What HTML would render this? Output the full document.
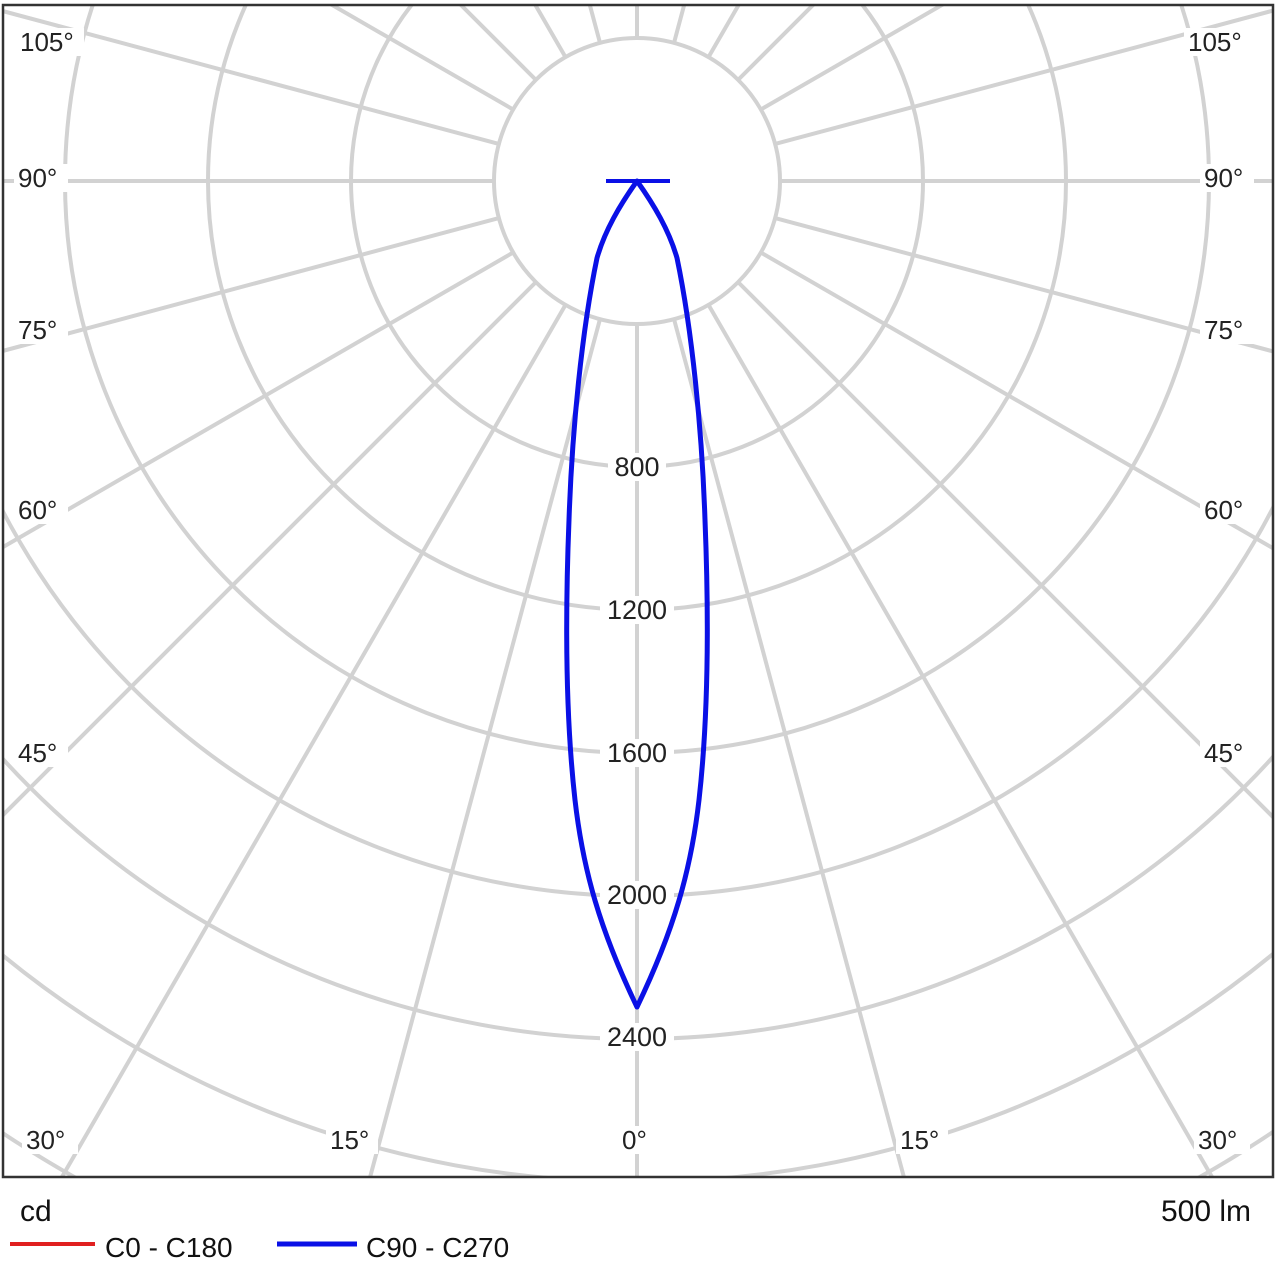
<!DOCTYPE html>
<html><head><meta charset="utf-8"><style>
html,body{margin:0;padding:0;background:#fff;width:1280px;height:1280px;overflow:hidden;}
svg{display:block;font-family:"Liberation Sans",Arial,sans-serif;}
</style></head><body>
<svg width="1280" height="1280" viewBox="0 0 1280 1280" xmlns="http://www.w3.org/2000/svg">
<defs><clipPath id="c"><rect x="3" y="5" width="1270" height="1172"/></clipPath></defs>
<rect width="1280" height="1280" fill="#fff"/>
<g clip-path="url(#c)" stroke="#d2d2d2" stroke-width="4" fill="none">
<g transform="translate(637,181)">
<circle r="143"/><circle r="286"/><circle r="429"/><circle r="572"/><circle r="715"/><circle r="858"/><circle r="1001"/><circle r="1144"/><circle r="1287"/><circle r="1430"/>
<line x1="0" y1="143" x2="0" y2="1900"/>
<line x1="0" y1="143" x2="0" y2="1900" transform="rotate(15)"/>
<line x1="0" y1="143" x2="0" y2="1900" transform="rotate(30)"/>
<line x1="0" y1="143" x2="0" y2="1900" transform="rotate(45)"/>
<line x1="0" y1="143" x2="0" y2="1900" transform="rotate(60)"/>
<line x1="0" y1="143" x2="0" y2="1900" transform="rotate(75)"/>
<line x1="0" y1="143" x2="0" y2="1900" transform="rotate(90)"/>
<line x1="0" y1="143" x2="0" y2="1900" transform="rotate(105)"/>
<line x1="0" y1="143" x2="0" y2="1900" transform="rotate(120)"/>
<line x1="0" y1="143" x2="0" y2="1900" transform="rotate(135)"/>
<line x1="0" y1="143" x2="0" y2="1900" transform="rotate(150)"/>
<line x1="0" y1="143" x2="0" y2="1900" transform="rotate(165)"/>
<line x1="0" y1="143" x2="0" y2="1900" transform="rotate(180)"/>
<line x1="0" y1="143" x2="0" y2="1900" transform="rotate(-15)"/>
<line x1="0" y1="143" x2="0" y2="1900" transform="rotate(-30)"/>
<line x1="0" y1="143" x2="0" y2="1900" transform="rotate(-45)"/>
<line x1="0" y1="143" x2="0" y2="1900" transform="rotate(-60)"/>
<line x1="0" y1="143" x2="0" y2="1900" transform="rotate(-75)"/>
<line x1="0" y1="143" x2="0" y2="1900" transform="rotate(-90)"/>
<line x1="0" y1="143" x2="0" y2="1900" transform="rotate(-105)"/>
<line x1="0" y1="143" x2="0" y2="1900" transform="rotate(-120)"/>
<line x1="0" y1="143" x2="0" y2="1900" transform="rotate(-135)"/>
<line x1="0" y1="143" x2="0" y2="1900" transform="rotate(-150)"/>
<line x1="0" y1="143" x2="0" y2="1900" transform="rotate(-165)"/>
</g>
</g>
<g fill="#fff">
<rect x="14" y="28" width="70" height="28"/><rect x="1184" y="28" width="70" height="28"/>
<rect x="14" y="164" width="54" height="28"/><rect x="1200" y="164" width="54" height="28"/>
<rect x="14" y="316" width="54" height="28"/><rect x="1200" y="316" width="54" height="28"/>
<rect x="14" y="496" width="54" height="28"/><rect x="1200" y="496" width="54" height="28"/>
<rect x="14" y="739" width="54" height="28"/><rect x="1200" y="739" width="54" height="28"/>
<rect x="22" y="1126" width="56" height="28"/><rect x="1194" y="1126" width="56" height="28"/>
<rect x="326" y="1126" width="52" height="28"/><rect x="896" y="1126" width="52" height="28"/>
<rect x="618" y="1126" width="38" height="28"/>
<rect x="608" y="453" width="58" height="28"/>
<rect x="600" y="596" width="74" height="28"/>
<rect x="600" y="739" width="74" height="28"/>
<rect x="600" y="881" width="74" height="28"/>
<rect x="600" y="1023" width="74" height="28"/>
</g>
<g font-size="26" fill="#222">
<text x="20" y="51">105°</text><text x="1188" y="51">105°</text>
<text x="18" y="187">90°</text><text x="1204" y="187">90°</text>
<text x="18" y="339">75°</text><text x="1204" y="339">75°</text>
<text x="18" y="519">60°</text><text x="1204" y="519">60°</text>
<text x="18" y="762">45°</text><text x="1204" y="762">45°</text>
<text x="26" y="1149">30°</text><text x="1198" y="1149">30°</text>
<text x="330" y="1149">15°</text><text x="900" y="1149">15°</text>
<text x="622" y="1149">0°</text>
<g text-anchor="middle" font-size="27"><text x="637" y="476">800</text><text x="637" y="619">1200</text><text x="637" y="762">1600</text><text x="637" y="904">2000</text><text x="637" y="1046">2400</text></g>
</g>
<path d="M637,181 C620,205 605,230 597,258 C582,330 572,430 569,520 C565,620 566,720 575,800 C583,870 600,930 637,1007 C674,930 691,870 699,800 C708,720 709,620 705,520 C702,430 692,330 677,258 C669,230 654,205 637,181 Z" fill="none" stroke="#0a10e6" stroke-width="5" stroke-linejoin="round"/>
<line x1="606" y1="181" x2="670" y2="181" stroke="#0a10e6" stroke-width="4"/>
<rect x="3" y="5" width="1270" height="1172" fill="none" stroke="#333" stroke-width="2.5"/>
<g font-size="30" fill="#111">
<text x="20" y="1221">cd</text>
<text x="1251" y="1221" text-anchor="end">500 lm</text>
</g>
<line x1="10" y1="1244" x2="95" y2="1244" stroke="#e02020" stroke-width="4"/>
<line x1="277" y1="1244" x2="357" y2="1244" stroke="#0a10e6" stroke-width="5"/>
<g font-size="28" fill="#111"><text x="105" y="1257">C0 - C180</text><text x="366" y="1257">C90 - C270</text></g>
</svg>
</body></html>
